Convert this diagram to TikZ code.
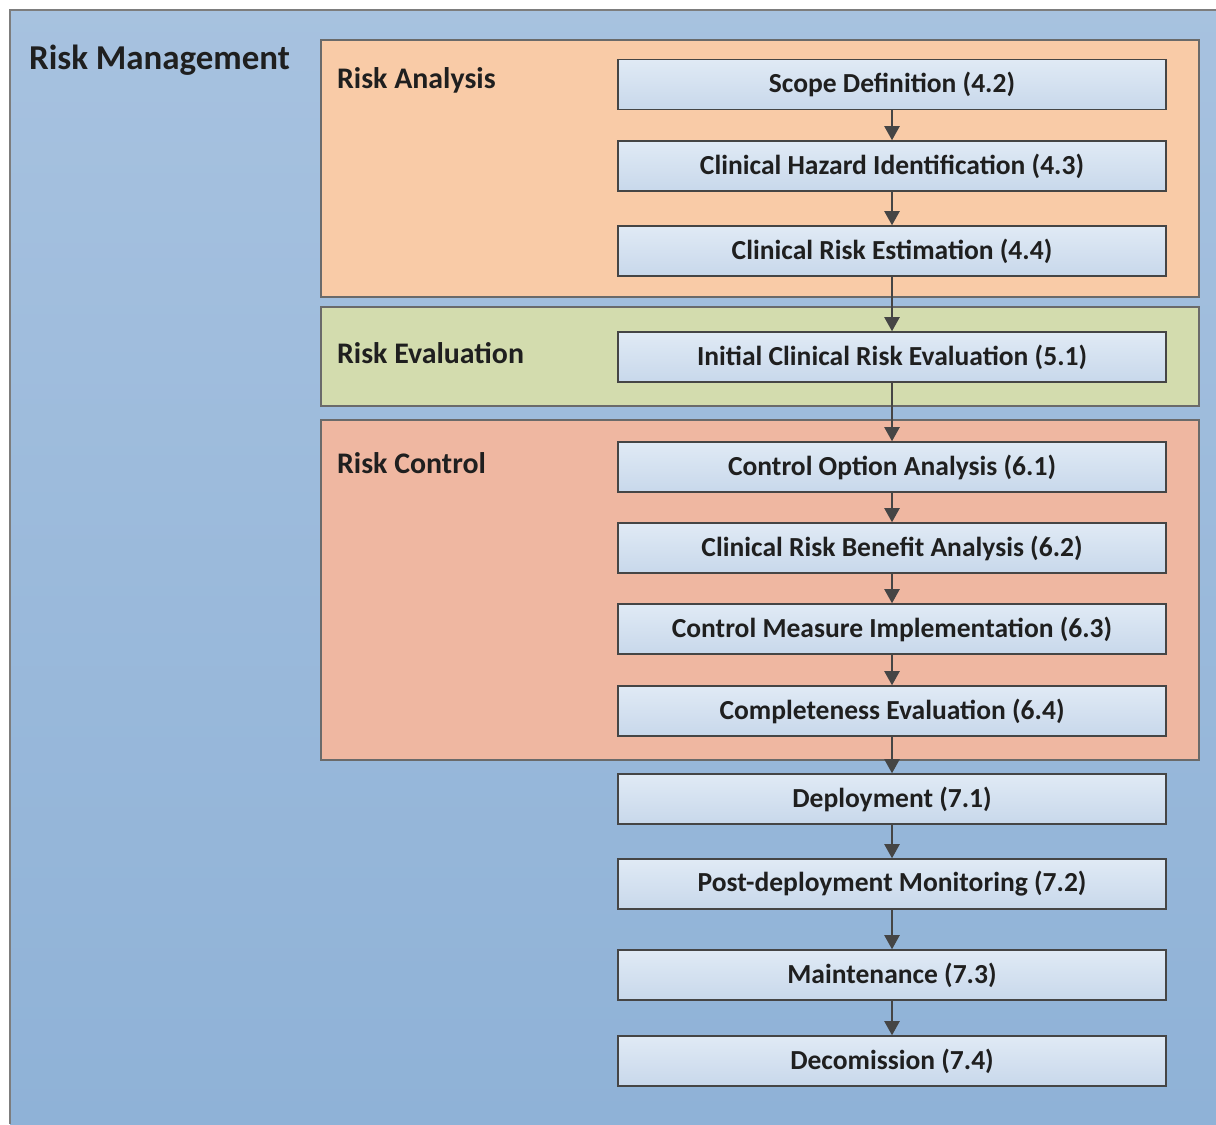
\documentclass[tikz,border=0pt]{standalone}
\usepackage{fontspec}
\setmainfont{Carlito}
\usetikzlibrary{arrows.meta}

\definecolor{mgmtblue}{HTML}{9DBBDC}
\definecolor{mgmtbluedark}{HTML}{8FB2D7}
\definecolor{analysisfill}{HTML}{F9CBA7}
\definecolor{evalfill}{HTML}{D3DCAE}
\definecolor{controlfill}{HTML}{EFB7A1}
\definecolor{steptop}{HTML}{E0EAF5}
\definecolor{stepbottom}{HTML}{C8D8EB}
\definecolor{edgegray}{HTML}{454545}

\begin{document}
\begin{tikzpicture}[x=0.03cm,y=-0.03cm,
    stepnode/.style={draw=edgegray,line width=1.3pt,top color=steptop,bottom color=stepbottom,
        minimum width=16.44cm,minimum height=1.5cm,inner sep=0pt,
        font=\fontsize{23.5}{26}\selectfont\bfseries,text=black!88},
    grouplabel/.style={anchor=west,font=\fontsize{25.5}{28}\selectfont\bfseries,text=black!88},
    groupbox/.style={draw=edgegray!80,line width=1.1pt},
    flow/.style={draw=edgegray,line width=1.3pt,-{Triangle[width=13pt,length=12pt]}}]

    \useasboundingbox (0,0) rectangle (1216,1124);
    \fill[white] (0,0) rectangle (1216,1124);

    % outer frame
    \shade[top color=mgmtblue!90!white,bottom color=mgmtbluedark] (10,10) rectangle (1216,1124);
    \draw[edgegray!70,line width=1.1pt] (1216,10) -- (10,10) -- (10,1124);
    \node[anchor=west,font=\fontsize{29.8}{33}\selectfont\bfseries,text=black!88] (mgmt) at (25,60) {Risk Management};

    % groups
    \draw[groupbox,fill=analysisfill] (321,40) rectangle (1199,297);
    \draw[groupbox,fill=evalfill] (321,307) rectangle (1199,406);
    \draw[groupbox,fill=controlfill] (321,420) rectangle (1199,760);

    \node[grouplabel] (analysis) at (333,80) {Risk Analysis};
    \node[grouplabel] (evaluation) at (333,353) {Risk Evaluation};
    \node[grouplabel] (control) at (333,463) {Risk Control};

    % steps
    \node[stepnode] (scope) at (892,84.5) {Scope Definition (4.2)};
    \node[stepnode] (hazard) at (892,166) {Clinical Hazard Identification (4.3)};
    \node[stepnode] (estimation) at (892,251) {Clinical Risk Estimation (4.4)};
    \node[stepnode] (initial) at (892,357) {Initial Clinical Risk Evaluation (5.1)};
    \node[stepnode] (option) at (892,467) {Control Option Analysis (6.1)};
    \node[stepnode] (benefit) at (892,548) {Clinical Risk Benefit Analysis (6.2)};
    \node[stepnode] (measure) at (892,629) {Control Measure Implementation (6.3)};
    \node[stepnode] (complete) at (892,711) {Completeness Evaluation (6.4)};
    \node[stepnode] (deploy) at (892,799) {Deployment (7.1)};
    \node[stepnode] (monitor) at (892,884) {Post-deployment Monitoring (7.2)};
    \node[stepnode] (maint) at (892,975) {Maintenance (7.3)};
    \node[stepnode] (decom) at (892,1061) {Decomission (7.4)};

    \draw[flow] (scope) -- (hazard);
    \draw[flow] (hazard) -- (estimation);
    \draw[flow] (estimation) -- (initial);
    \draw[flow] (initial) -- (option);
    \draw[flow] (option) -- (benefit);
    \draw[flow] (benefit) -- (measure);
    \draw[flow] (measure) -- (complete);
    \draw[flow] (complete) -- (deploy);
    \draw[flow] (deploy) -- (monitor);
    \draw[flow] (monitor) -- (maint);
    \draw[flow] (maint) -- (decom);

\end{tikzpicture}
\end{document}
